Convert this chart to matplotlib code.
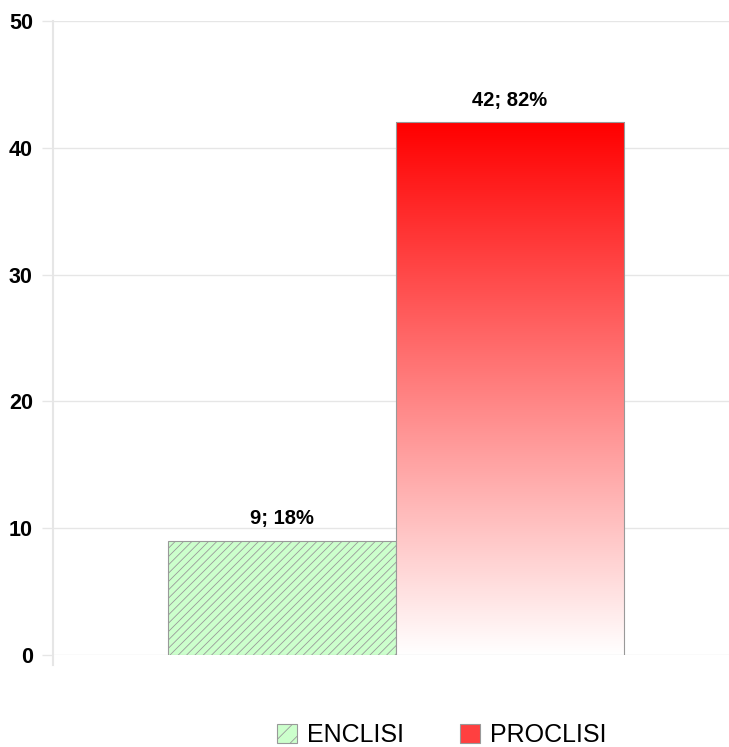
import numpy as np
import matplotlib
matplotlib.use("Agg")
import matplotlib.pyplot as plt
from matplotlib.patches import Patch

categories = ["ENCLISI", "PROCLISI"]
values = [9, 42]
labels = ["9; 18%", "42; 82%"]
yticks = [0, 10, 20, 30, 40, 50]

plt.rcParams['font.family'] = ['Liberation Sans', 'DejaVu Sans']
plt.rcParams['hatch.linewidth'] = 0.6

fig = plt.figure(figsize=(7.29, 7.47), dpi=100)
ax = fig.add_axes([53/729, 92/747, (729-53)/729, (655-21)/747])

x = np.arange(len(categories))
ax.bar(x[0], values[0], width=1.0, color="#ccffcc", edgecolor="#999999",
       hatch="////", linewidth=0.8, zorder=3)
ax.bar(x[1], values[1], width=1.0, color="none", edgecolor="#999999",
       linewidth=0.8, zorder=4)
grad = np.linspace(0, 1, 256)
cols = np.zeros((256, 1, 3))
cols[:, 0, 0] = 1.0
cols[:, 0, 1] = grad
cols[:, 0, 2] = grad
ax.imshow(cols, extent=[x[1]-0.5, x[1]+0.5, 0, values[1]], origin="upper",
          aspect="auto", zorder=3, interpolation="bilinear")
ax.set_xlim(-1.004, 1.96)
ax.set_ylim(0, 50)

for xi, v, lab in zip(x, values, labels):
    ax.text(xi, v + 1.0, lab, ha="center", va="bottom", fontsize=14.5, fontweight="bold")

ax.set_yticks(yticks)
ax.set_yticklabels([str(t) for t in yticks], fontsize=15.5, fontweight="bold")
ax.tick_params(axis="y", length=8, width=1, color="#e6e6e6", pad=6.5)
ax.set_xticks([])
ax.yaxis.grid(True, color="#e6e6e6", linewidth=1, zorder=0)
ax.set_axisbelow(True)
for s in ["top", "right", "bottom"]:
    ax.spines[s].set_visible(False)
ax.spines["left"].set_color("#e6e6e6")
ax.spines["left"].set_linewidth(1.5)
ax.spines["left"].set_bounds(-0.8, 50)

handles = [Patch(facecolor="#ccffcc", edgecolor="#999999", hatch="//", linewidth=0.8),
           Patch(facecolor="#ff4040", edgecolor="#999999", linewidth=0.8)]
fig.legend(handles, categories, loc="center", bbox_to_anchor=(0.606, 0.016), ncol=2,
           frameon=False, fontsize=18, handlelength=0.8, handleheight=0.8,
           columnspacing=2.25, handletextpad=0.4, borderpad=0)

fig.savefig("out.png", dpi=100)
